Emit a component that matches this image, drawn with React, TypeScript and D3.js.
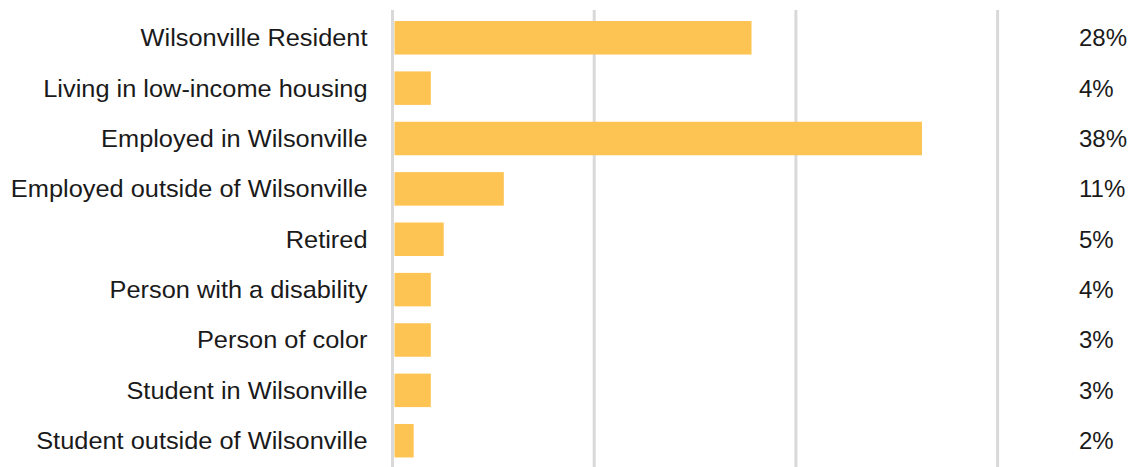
import React from "react";
import * as d3 from "d3";

const categories = [
  "Wilsonville Resident",
  "Living in low-income housing",
  "Employed in Wilsonville",
  "Employed outside of Wilsonville",
  "Retired",
  "Person with a disability",
  "Person of color",
  "Student in Wilsonville",
  "Student outside of Wilsonville",
];
const barValues = [17.7, 1.8, 26.15, 5.42, 2.44, 1.8, 1.8, 1.8, 0.95];
const pctLabels = ["28%", "4%", "38%", "11%", "5%", "4%", "3%", "3%", "2%"];
const gridTicks = [0, 10, 20, 30];

const W = 1135;
const H = 467;

export default function App() {
  const x = d3.scaleLinear().domain([0, 30]).range([394.5, 999.6]);
  const y = d3
    .scaleBand<string>()
    .domain(categories)
    .range([12.6, 465.9])
    .paddingInner(0.335)
    .paddingOuter(0.1675);
  const font = "'Liberation Sans', Arial, sans-serif";
  return (
    <svg
      width={W}
      height={H}
      style={{ position: "absolute", left: 0, top: 0, background: "#fff" }}
      fontFamily={font}
    >
      {gridTicks.map((t) => (
        <line
          key={t}
          x1={x(t) - 2}
          x2={x(t) - 2}
          y1={10}
          y2={H}
          stroke="#d9d9d9"
          strokeWidth={3}
        />
      ))}
      {categories.map((c, i) => {
        const yc = (y(c) as number) + y.bandwidth() / 2;
        return (
          <g key={c}>
            <rect
              x={x(0)}
              y={y(c)}
              width={x(barValues[i]) - x(0)}
              height={y.bandwidth()}
              fill="#FDC454"
            />
            <text
              transform={`translate(367.5,${yc}) scale(1.057,1)`}
              dy="0.35em"
              textAnchor="end"
              fontSize={24}
              fill="#1a1a1a"
            >
              {c}
            </text>
            <text
              x={1079}
              y={yc}
              dy="0.35em"
              textAnchor="start"
              fontSize={24}
              fill="#1a1a1a"
            >
              {pctLabels[i]}
            </text>
          </g>
        );
      })}
    </svg>
  );
}
